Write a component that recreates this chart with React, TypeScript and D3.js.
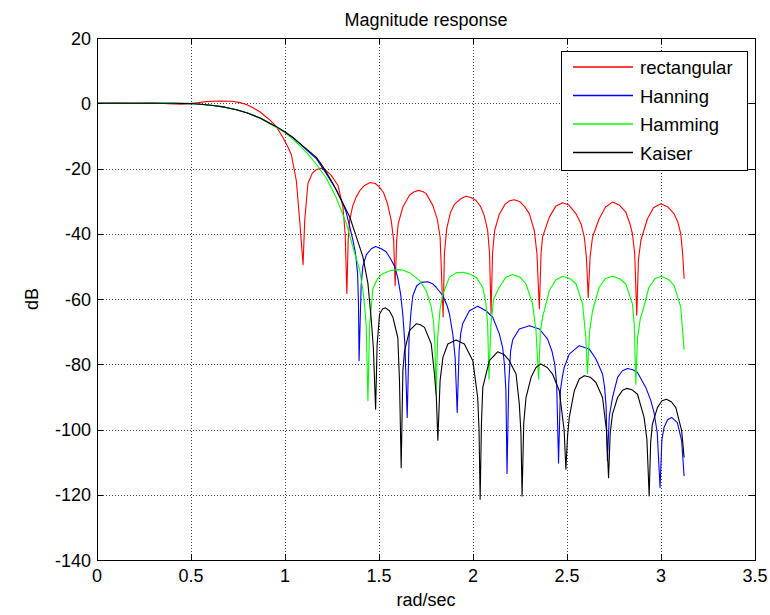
import React from 'react';
import * as d3 from 'd3';

type P = [number, number];

const titleText = 'Magnitude response';
const xLabel = 'rad/sec';
const yLabel = 'dB';
const xTicks = [0, 0.5, 1, 1.5, 2, 2.5, 3, 3.5];
const yTicks = [20, 0, -20, -40, -60, -80, -100, -120, -140];
const seriesNames = ['rectangular', 'Hanning', 'Hamming', 'Kaiser'];
const seriesColors = ['#ff0000', '#0000ff', '#00ff00', '#000000'];

const rectangular: P[] = [
  [0, 0], [0.1, 0.05], [0.2, -0.05], [0.3, 0.08], [0.38, -0.15], [0.45, -0.3], [0.52, 0.1],
  [0.58, 0.5], [0.65, 0.7], [0.72, 0.6], [0.76, 0.2], [0.795, -0.4], [0.83, -1.4], [0.866, -2.6],
  [0.9, -4.2], [0.919, -5.1], [0.954, -7.2], [0.989, -10.5], [1.016, -13.5], [1.034, -15.8],
  [1.06, -23.6], [1.078, -35.9], [1.096, -49.5], [1.105, -35.9], [1.122, -24.6], [1.145, -21.5],
  [1.167, -20.3], [1.202, -19.8], [1.246, -22.1], [1.282, -25.2], [1.308, -31.8], [1.32, -40],
  [1.329, -58.3], [1.336, -42], [1.344, -35.9], [1.36, -31.5], [1.379, -28.7], [1.4, -26.6],
  [1.423, -25.2], [1.453, -24.3], [1.48, -24.6], [1.503, -25.7], [1.525, -27.5], [1.545, -30.8],
  [1.565, -35.9], [1.578, -42], [1.586, -55.9], [1.594, -42], [1.602, -37], [1.627, -31.8],
  [1.662, -28.2], [1.685, -27.2], [1.71, -26.7], [1.735, -27.1], [1.751, -27.7], [1.786, -31.3],
  [1.81, -35.5], [1.825, -41], [1.841, -65.5], [1.848, -46], [1.86, -38.5], [1.88, -33.5],
  [1.901, -31], [1.937, -29.2], [1.963, -28.5], [1.99, -28.9], [2.016, -29.8], [2.04, -31.6],
  [2.06, -34.5], [2.078, -39], [2.088, -46], [2.096, -64.5], [2.104, -46], [2.115, -39],
  [2.14, -34], [2.17, -31], [2.195, -29.9], [2.22, -29.6], [2.25, -30.2], [2.275, -31.7],
  [2.3, -33.9], [2.326, -39], [2.34, -46], [2.353, -63], [2.362, -46], [2.37, -41], [2.406, -34.9],
  [2.44, -31.6], [2.477, -30.5], [2.51, -31.2], [2.548, -33.9], [2.575, -37], [2.592, -41],
  [2.603, -47], [2.613, -59.5], [2.623, -47], [2.636, -41], [2.671, -35.4], [2.705, -31.8],
  [2.742, -30.3], [2.78, -31.3], [2.813, -33.4], [2.835, -37], [2.848, -40], [2.86, -46],
  [2.871, -65], [2.88, -48], [2.893, -42], [2.928, -35.4], [2.96, -32], [2.999, -30.8],
  [3.035, -31.7], [3.07, -33.9], [3.09, -36.5], [3.105, -40], [3.115, -46], [3.123, -53.8],
];

const hanning: P[] = [
  [0, 0], [0.2, 0], [0.4, 0], [0.5, -0.1], [0.55, -0.3], [0.618, -0.7], [0.68, -1.2], [0.742, -2],
  [0.8, -3], [0.87, -4.6], [0.919, -6.1], [0.96, -7.4], [1.0, -8.8], [1.04, -10.4], [1.078, -12.3],
  [1.12, -14.6], [1.167, -17], [1.22, -21.6], [1.273, -26.5], [1.308, -30.7], [1.326, -33.5],
  [1.361, -41.9], [1.375, -46], [1.386, -52], [1.391, -62], [1.394, -78.9], [1.405, -56],
  [1.414, -50], [1.432, -46.5], [1.459, -44.6], [1.482, -43.9], [1.51, -44.5], [1.538, -45.5],
  [1.56, -47.5], [1.583, -50], [1.6, -53.5], [1.615, -58.5], [1.627, -65], [1.638, -74],
  [1.65, -96.3], [1.66, -72], [1.67, -64], [1.68, -59], [1.7, -56], [1.724, -54.9], [1.76, -54.7],
  [1.785, -55.3], [1.804, -56.4], [1.84, -59], [1.862, -62], [1.875, -64.6], [1.893, -71],
  [1.905, -78], [1.916, -94.8], [1.926, -76], [1.935, -70.5], [1.945, -67.6], [1.981, -63.6],
  [2.025, -62.2], [2.069, -63.6], [2.105, -65.6], [2.14, -70.7], [2.158, -75], [2.167, -80],
  [2.175, -88], [2.181, -113.5], [2.19, -86], [2.2, -76], [2.211, -72.5], [2.246, -69.2],
  [2.3, -68.2], [2.353, -69.2], [2.397, -72.3], [2.42, -76], [2.435, -80], [2.445, -86],
  [2.455, -110.3], [2.465, -88], [2.475, -84], [2.485, -81], [2.512, -76.9], [2.565, -74.3],
  [2.618, -75.3], [2.654, -78.4], [2.689, -83], [2.7, -87], [2.708, -93], [2.715, -109.6],
  [2.725, -96], [2.742, -90.2], [2.769, -84], [2.795, -82], [2.822, -81.3], [2.85, -81.7],
  [2.875, -82.5], [2.919, -87.1], [2.945, -91], [2.963, -94.8], [2.98, -101], [2.995, -117.8],
  [3.005, -103], [3.016, -99.4], [3.035, -97], [3.057, -96.3], [3.087, -97.9], [3.11, -103.5],
  [3.123, -114.3],
];

const hamming: P[] = [
  [0, 0], [0.2, 0], [0.4, 0], [0.5, -0.1], [0.55, -0.3], [0.618, -0.7], [0.68, -1.2], [0.742, -2],
  [0.8, -3], [0.87, -4.7], [0.919, -6.3], [0.96, -7.6], [1.0, -9], [1.06, -11.9], [1.122, -15.6],
  [1.167, -18.7], [1.22, -23], [1.273, -29], [1.326, -36.8], [1.361, -44], [1.397, -51.1],
  [1.414, -57.2], [1.425, -63], [1.432, -68], [1.441, -91.2], [1.45, -68], [1.459, -62.5],
  [1.467, -57], [1.49, -54], [1.512, -52.5], [1.56, -51.3], [1.6, -51], [1.627, -51.1],
  [1.67, -52.2], [1.715, -54.3], [1.751, -57.4], [1.778, -62.5], [1.79, -67], [1.797, -73],
  [1.804, -89.2], [1.812, -72], [1.825, -63], [1.84, -58.4], [1.875, -53.3], [1.91, -52],
  [1.945, -51.8], [1.98, -52.3], [2.016, -53.3], [2.052, -56.4], [2.068, -61], [2.078, -68],
  [2.085, -84.6], [2.095, -68], [2.11, -60], [2.14, -56.4], [2.175, -53.3], [2.211, -52.5],
  [2.25, -53.3], [2.282, -55.4], [2.317, -61.5], [2.335, -69.7], [2.349, -84.6], [2.358, -70],
  [2.37, -65.6], [2.406, -57.4], [2.44, -54.2], [2.477, -53], [2.515, -53.7], [2.548, -55.4],
  [2.583, -61.5], [2.6, -71.8], [2.609, -82.8], [2.62, -70], [2.636, -63.6], [2.671, -56.4],
  [2.705, -53.7], [2.742, -53], [2.78, -53.8], [2.813, -55.4], [2.848, -61.5], [2.858, -68],
  [2.866, -86.1], [2.875, -72], [2.89, -66], [2.903, -63.6], [2.936, -56.4], [2.97, -53.7],
  [3.002, -53], [3.04, -54], [3.07, -55.9], [3.105, -62.5], [3.123, -75.6],
];

const kaiser: P[] = [
  [0, 0], [0.2, 0], [0.4, 0], [0.5, -0.1], [0.55, -0.3], [0.618, -0.7], [0.68, -1.2], [0.742, -2],
  [0.8, -3], [0.87, -4.6], [0.919, -6.1], [0.96, -7.4], [1.0, -8.8], [1.04, -10.4], [1.078, -12.3],
  [1.12, -14.3], [1.167, -16.6], [1.202, -19.5], [1.255, -24.6], [1.291, -28.7], [1.32, -32],
  [1.344, -34.8], [1.379, -40.9], [1.414, -47], [1.441, -55.2], [1.459, -66.4], [1.47, -75],
  [1.482, -93.8], [1.49, -74], [1.503, -64.6], [1.52, -63], [1.535, -62.7], [1.555, -63.6],
  [1.574, -65.6], [1.6, -71.8], [1.609, -85], [1.618, -111.7], [1.627, -82], [1.636, -75.9],
  [1.662, -69.7], [1.698, -67.6], [1.72, -67.9], [1.742, -68.7], [1.778, -73.8], [1.795, -83],
  [1.805, -90], [1.813, -103.3], [1.825, -85], [1.84, -77.9], [1.866, -73.8], [1.91, -72.6],
  [1.954, -73.8], [1.999, -78.9], [2.025, -90.2], [2.032, -100], [2.038, -121.4], [2.045, -98],
  [2.052, -87.1], [2.087, -78.9], [2.131, -76.2], [2.165, -77], [2.193, -78.9], [2.229, -83],
  [2.246, -92], [2.255, -101], [2.261, -120.4], [2.27, -98], [2.282, -90.2], [2.309, -84],
  [2.335, -81], [2.361, -79.9], [2.395, -81], [2.423, -83], [2.459, -88.1], [2.485, -100.4],
  [2.494, -112.2], [2.503, -102], [2.512, -96.3], [2.539, -88.1], [2.565, -84.5], [2.592, -83.5],
  [2.625, -84], [2.654, -85.6], [2.689, -90.2], [2.71, -100.4], [2.721, -114.8], [2.73, -101],
  [2.742, -95.3], [2.769, -90.2], [2.795, -88], [2.818, -87.4], [2.845, -87.8], [2.875, -89.2],
  [2.91, -96.3], [2.925, -103], [2.937, -120.4], [2.945, -104], [2.954, -98.4], [2.981, -93.3],
  [3.005, -91.2], [3.029, -90.7], [3.055, -91.5], [3.079, -93.3], [3.11, -100.4], [3.123, -108.6],
];

const seriesData = [rectangular, hanning, hamming, kaiser];

const W = 770;
const H = 615;
const L = 97;
const R = 755;
const T = 38;
const B = 560;
const FONT = "'Liberation Sans', Arial, Helvetica, sans-serif";

export default function App() {
  const x = d3.scaleLinear().domain([0, 3.5]).range([L, R]);
  const y = d3.scaleLinear().domain([-140, 20]).range([B, T]);
  const line = d3
    .line<P>()
    .x((d) => x(d[0]))
    .y((d) => y(d[1]));
  const tickLen = 6;
  const legX = 561;
  const legY = 51;
  const legW = 186;
  const legH = 119;
  const rowY = [67, 95.5, 124, 152.5];

  return (
    <svg
      width={W}
      height={H}
      style={{ position: 'absolute', left: 0, top: 0, background: '#fff' }}
      fontFamily={FONT}
    >
      <rect x={0} y={0} width={W} height={H} fill="#fff" />
      {/* grid */}
      <g stroke="#444" strokeWidth={1} strokeDasharray="1,2" shapeRendering="crispEdges">
        {xTicks.slice(1, -1).map((t) => (
          <line key={'gx' + t} x1={Math.round(x(t)) + 0.5} x2={Math.round(x(t)) + 0.5} y1={T} y2={B} />
        ))}
        {yTicks.slice(1, -1).map((t) => (
          <line key={'gy' + t} x1={L} x2={R} y1={Math.round(y(t)) + 0.5} y2={Math.round(y(t)) + 0.5} />
        ))}
      </g>
      {/* curves */}
      <g fill="none" strokeWidth={1.1} strokeLinejoin="round">
        {seriesData.map((d, i) => (
          <path key={seriesNames[i]} d={line(d) || ''} stroke={seriesColors[i]} />
        ))}
      </g>
      {/* axes box and ticks */}
      <g stroke="#000" strokeWidth={1} shapeRendering="crispEdges">
        <rect x={L + 0.5} y={T + 0.5} width={R - L} height={B - T} fill="none" />
        {xTicks.map((t) => (
          <g key={'tx' + t}>
            <line x1={Math.round(x(t)) + 0.5} x2={Math.round(x(t)) + 0.5} y1={B} y2={B - tickLen} />
            <line x1={Math.round(x(t)) + 0.5} x2={Math.round(x(t)) + 0.5} y1={T} y2={T + tickLen} />
          </g>
        ))}
        {yTicks.map((t) => (
          <g key={'ty' + t}>
            <line x1={L} x2={L + tickLen} y1={Math.round(y(t)) + 0.5} y2={Math.round(y(t)) + 0.5} />
            <line x1={R} x2={R - tickLen} y1={Math.round(y(t)) + 0.5} y2={Math.round(y(t)) + 0.5} />
          </g>
        ))}
      </g>
      {/* tick labels */}
      <g fontSize={18} fill="#000">
        {xTicks.map((t) => (
          <text key={'lx' + t} x={x(t)} y={582} textAnchor="middle">
            {String(t)}
          </text>
        ))}
        {yTicks.map((t) => (
          <text key={'ly' + t} x={L - 6} y={y(t) + 6.5} textAnchor="end">
            {String(t)}
          </text>
        ))}
      </g>
      {/* labels */}
      <text x={(L + R) / 2} y={26} textAnchor="middle" fontSize={18}>
        {titleText}
      </text>
      <text x={(L + R) / 2} y={606} textAnchor="middle" fontSize={18}>
        {xLabel}
      </text>
      <text transform={`translate(38, ${(T + B) / 2}) rotate(-90)`} textAnchor="middle" fontSize={18}>
        {yLabel}
      </text>
      {/* legend */}
      <g>
        <rect x={legX + 0.5} y={legY + 0.5} width={legW} height={legH} fill="#fff" stroke="#000" strokeWidth={1} shapeRendering="crispEdges" />
        {seriesNames.map((n, i) => (
          <g key={'leg' + n}>
            <line x1={573} x2={633} y1={rowY[i]} y2={rowY[i]} stroke={seriesColors[i]} strokeWidth={1.6} />
            <text x={640} y={rowY[i] + 7} fontSize={18.5}>
              {n}
            </text>
          </g>
        ))}
      </g>
    </svg>
  );
}
